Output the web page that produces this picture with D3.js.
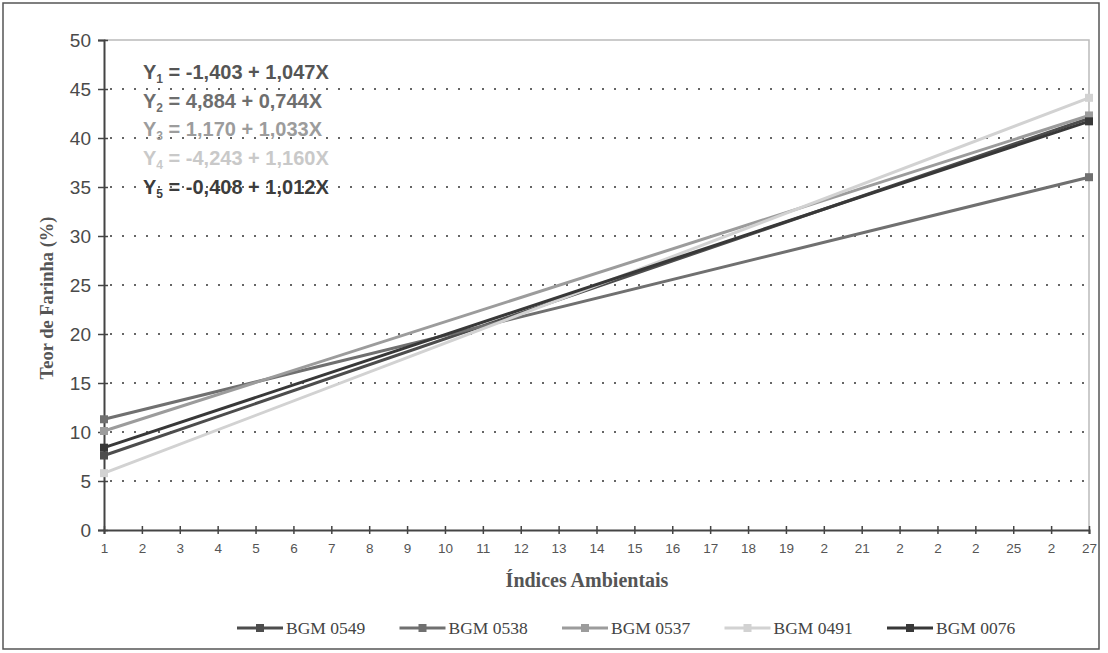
<!DOCTYPE html>
<html>
<head>
<meta charset="utf-8">
<script src="https://cdn.jsdelivr.net/npm/d3@7"></script>
<style>
  body { margin: 0; background: #fff; }
  svg { display: block; }
</style>
</head>
<body>
<div id="root"></div>
<script>
// Data
const indices = d3.range(1, 28);
const tickLabels = ['1','2','3','4','5','6','7','8','9','10','11','12','13','14','15','16','17','18','19','2','21','2','2','2','25','2','27'];
const seriesNames = ['BGM 0549', 'BGM 0538', 'BGM 0537', 'BGM 0491', 'BGM 0076'];
const endX = [1, 27];
const bgm0549 = [7.6, 42.0];
const bgm0538 = [11.3, 36.0];
const bgm0537 = [10.1, 42.3];
const bgm0491 = [5.8, 44.1];
const bgm0076 = [8.4, 41.7];
const equations = [
  ['1', ' = -1,403 + 1,047X'],
  ['2', ' = 4,884 + 0,744X'],
  ['3', ' = 1,170 + 1,033X'],
  ['4', ' = -4,243 + 1,160X'],
  ['5', ' = -0,408 + 1,012X']
];
const yTicks = [0, 5, 10, 15, 20, 25, 30, 35, 40, 45, 50];

const seriesValues = [bgm0549, bgm0538, bgm0537, bgm0491, bgm0076];
const lineColors = ['#4d4d4d', '#707070', '#9c9c9c', '#d2d2d2', '#383838'];
const eqColors = ['#555', '#6e6e6e', '#9c9c9c', '#c9c9c9', '#3c3c3c'];

// Sizes
const width = 1108;
const height = 653;
const plot = {left: 104, right: 1089, top: 40, bottom: 530};

const svg = d3.select('#root')
  .append('svg')
  .attr('width', width)
  .attr('height', height);

// outer frame
svg.append('rect')
  .attr('x', 3).attr('y', 3)
  .attr('width', 1096).attr('height', 646)
  .attr('fill', 'none')
  .attr('stroke', '#555')
  .attr('stroke-width', 1.5);

const x = d3.scaleLinear().domain([1, 27]).range([plot.left, plot.right]);
const y = d3.scaleLinear().domain([0, 50]).range([plot.bottom, plot.top]);

// dotted grid
svg.append('g')
  .selectAll('line')
  .data(yTicks.filter(d => d > 0 && d < 50))
  .enter()
    .append('line')
    .attr('x1', plot.left + 6)
    .attr('x2', plot.right)
    .attr('y1', d => y(d))
    .attr('y2', d => y(d))
    .attr('stroke', '#666')
    .attr('stroke-width', 2)
    .attr('stroke-dasharray', '2,10');

// top and right frame of the plot
svg.append('path')
  .attr('d', `M${plot.left},${plot.top}H${plot.right}V${plot.bottom}`)
  .attr('fill', 'none')
  .attr('stroke', '#bbb')
  .attr('stroke-width', 1.5);

// y axis
const yAxis = svg.append('g')
  .attr('transform', `translate(${plot.left},0)`)
  .call(d3.axisLeft(y).tickValues(yTicks).tickSize(6).tickPadding(7));
yAxis.select('.domain').attr('stroke', '#444').attr('stroke-width', 2);
yAxis.selectAll('.tick line').attr('stroke', '#444').attr('stroke-width', 1.5).attr('x2', 4).attr('x1', -6);
yAxis.selectAll('.tick text')
  .attr('font-family', 'Liberation Sans, Arial, sans-serif')
  .attr('font-size', 19)
  .attr('fill', '#4a4a4a');

// x axis
const xAxis = svg.append('g')
  .attr('transform', `translate(0,${plot.bottom})`)
  .call(d3.axisBottom(x).tickValues(indices).tickFormat((d, i) => tickLabels[i]).tickSize(4).tickPadding(9));
xAxis.select('.domain').attr('stroke', '#444').attr('stroke-width', 2);
xAxis.selectAll('.tick line').attr('stroke', '#444').attr('stroke-width', 1.5).attr('y1', -4);
xAxis.selectAll('.tick text')
  .attr('font-family', 'Liberation Sans, Arial, sans-serif')
  .attr('font-size', 13.5)
  .attr('fill', '#555');

// axis titles
svg.append('text')
  .attr('x', 587).attr('y', 587)
  .attr('text-anchor', 'middle')
  .attr('font-family', 'Liberation Serif, Times New Roman, serif')
  .attr('font-weight', 'bold')
  .attr('font-size', 20)
  .attr('fill', '#555')
  .text('Índices Ambientais');

svg.append('text')
  .attr('transform', 'translate(53,298) rotate(-90)')
  .attr('text-anchor', 'middle')
  .attr('font-family', 'Liberation Serif, Times New Roman, serif')
  .attr('font-weight', 'bold')
  .attr('font-size', 18.5)
  .attr('fill', '#555')
  .text('Teor de Farinha (%)');

// series lines
const line = d3.line()
  .x((d, i) => x(endX[i]))
  .y(d => y(d));

const series = svg.append('g')
  .selectAll('g')
  .data(seriesValues)
  .enter()
    .append('g');

series.append('path')
  .attr('d', d => line(d))
  .attr('fill', 'none')
  .attr('stroke', (d, i) => lineColors[i])
  .attr('stroke-width', 3);

series.selectAll('rect')
  .data((d, i) => d.map((v, j) => ({v, j, c: lineColors[i]})))
  .enter()
    .append('rect')
    .attr('x', d => x(endX[d.j]) - 4)
    .attr('y', d => y(d.v) - 4)
    .attr('width', 8)
    .attr('height', 8)
    .attr('fill', d => d.c);

// equations
const eq = svg.append('g')
  .selectAll('text')
  .data(equations)
  .enter()
    .append('text')
    .attr('x', 143)
    .attr('y', (d, i) => 79 + i * 28.7)
    .attr('font-family', 'Liberation Sans, Arial, sans-serif')
    .attr('font-weight', 'bold')
    .attr('font-size', 20)
    .attr('fill', (d, i) => eqColors[i]);

eq.append('tspan').text('Y');
eq.append('tspan')
  .attr('font-size', 12)
  .attr('dy', 4)
  .text(d => d[0]);
eq.append('tspan')
  .attr('dy', -4)
  .text(d => d[1]);

// legend
const legendX = d3.scaleLinear().domain([0, 4]).range([237, 887]);
const legend = svg.append('g')
  .selectAll('g')
  .data(seriesNames)
  .enter()
    .append('g')
    .attr('transform', (d, i) => `translate(${legendX(i)},628)`);

legend.append('line')
  .attr('x1', 0).attr('x2', 46)
  .attr('stroke', (d, i) => lineColors[i])
  .attr('stroke-width', 3);

legend.append('rect')
  .attr('x', 19).attr('y', -4)
  .attr('width', 8).attr('height', 8)
  .attr('fill', (d, i) => lineColors[i]);

legend.append('text')
  .attr('x', 49).attr('y', 6)
  .attr('font-family', 'Liberation Serif, Times New Roman, serif')
  .attr('font-size', 17.5)
  .attr('fill', '#444')
  .text(d => d);
</script>
</body>
</html>
